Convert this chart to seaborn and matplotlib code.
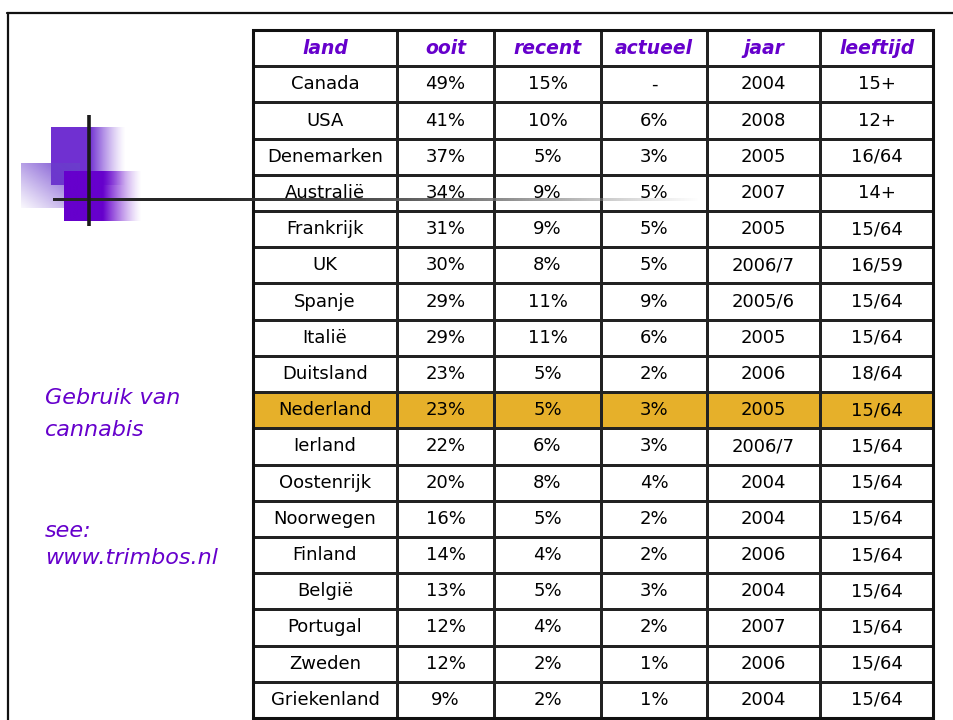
import numpy as np
import pandas as pd
import matplotlib.pyplot as plt
from matplotlib.colors import ListedColormap
from matplotlib.lines import Line2D
from matplotlib.patches import Rectangle
import seaborn as sns

# table contents
header = ['land', 'ooit', 'recent', 'actueel', 'jaar', 'leeftijd']
land = ['Canada', 'USA', 'Denemarken', 'Australië', 'Frankrijk', 'UK', 'Spanje',
        'Italië', 'Duitsland', 'Nederland', 'Ierland', 'Oostenrijk', 'Noorwegen',
        'Finland', 'België', 'Portugal', 'Zweden', 'Griekenland']
ooit = ['49%', '41%', '37%', '34%', '31%', '30%', '29%', '29%', '23%', '23%',
        '22%', '20%', '16%', '14%', '13%', '12%', '12%', '9%']
recent = ['15%', '10%', '5%', '9%', '9%', '8%', '11%', '11%', '5%', '5%',
          '6%', '8%', '5%', '4%', '5%', '4%', '2%', '2%']
actueel = ['-', '6%', '3%', '5%', '5%', '5%', '9%', '6%', '2%', '3%',
           '3%', '4%', '2%', '2%', '3%', '2%', '1%', '1%']
jaar = ['2004', '2008', '2005', '2007', '2005', '2006/7', '2005/6', '2005', '2006', '2005',
        '2006/7', '2004', '2004', '2006', '2004', '2007', '2006', '2004']
leeftijd = ['15+', '12+', '16/64', '14+', '15/64', '16/59', '15/64', '15/64', '18/64', '15/64',
            '15/64', '15/64', '15/64', '15/64', '15/64', '15/64', '15/64', '15/64']
highlight = 'Nederland'

df = pd.DataFrame({'land': land, 'ooit': ooit, 'recent': recent,
                   'actueel': actueel, 'jaar': jaar, 'leeftijd': leeftijd})

purple = '#6600CC'
gold = '#E6B02A'
W, H = 954, 720

sns.set_theme(style='white')
plt.rcParams['font.family'] = ['DejaVu Sans']

fig = plt.figure(figsize=(W / 100, H / 100), dpi=100)
fig.patch.set_facecolor('white')

# column edges in pixels
col_edges = [253, 397, 494, 601, 707, 820, 933]
top_px, bot_px = 30, 718

shade = np.array([0] + [1 if name == highlight else 0 for name in df['land']])[:, None]
cmap = ListedColormap(['white', gold])

for i, col in enumerate(header):
    x0, x1 = col_edges[i], col_edges[i + 1]
    ax = fig.add_axes([x0 / W, 1 - bot_px / H, (x1 - x0) / W, (bot_px - top_px) / H], zorder=1)
    labels = np.array([col] + list(df[col]))[:, None]
    sns.heatmap(shade, annot=labels, fmt='', cmap=cmap, vmin=0, vmax=1, cbar=False,
                linewidths=0.9, linecolor='#222222', xticklabels=False, yticklabels=False,
                annot_kws=dict(fontsize=13, color='black'), ax=ax)
    hdr = ax.texts[0]
    hdr.set_color(purple)
    hdr.set_fontweight('bold')
    hdr.set_fontstyle('italic')
    hdr.set_fontsize(13.5)

# thick outer border of the table
fig.add_artist(Rectangle((col_edges[0] / W, 1 - bot_px / H),
                         (col_edges[-1] - col_edges[0]) / W, (bot_px - top_px) / H,
                         transform=fig.transFigure, fill=False, lw=2.2,
                         edgecolor='#111111', zorder=3))

# slide frame
fig.add_artist(Line2D([7 / W, 1], [1 - 13 / H, 1 - 13 / H], transform=fig.transFigure,
                      color='#111111', lw=1.6))
fig.add_artist(Line2D([8 / W, 8 / W], [1 - 13 / H, 0], transform=fig.transFigure,
                      color='#111111', lw=1.6))

# decoration layer
deco = fig.add_axes([0, 0, 1, 1], zorder=5)
deco.set_xlim(0, W)
deco.set_ylim(H, 0)
deco.axis('off')
deco.patch.set_alpha(0)


def fade_block(x0, x1, y0, y1, rgb, solid_frac):
    n = 200
    t = np.linspace(0, 1, n)
    a = np.where(t < solid_frac, 1.0, np.clip((1 - t) / (1 - solid_frac), 0, 1) ** 1.3)
    img = np.zeros((2, n, 4))
    img[..., :3] = rgb
    img[..., 3] = a
    deco.imshow(img, extent=[x0, x1, y1, y0], aspect='auto', interpolation='bilinear')


fade_block(51, 126, 127, 185, (0.44, 0.19, 0.82), 0.52)

# diagonal faded square
n = 100
gx, gy = np.meshgrid(np.linspace(0, 1, n), np.linspace(0, 1, n))
diag = np.zeros((n, n, 4))
diag[..., :3] = (0.42, 0.24, 0.80)
diag[..., 3] = np.clip(0.05 + 0.95 * (gx + (1 - gy)) / 2, 0, 1) ** 1.1
deco.imshow(diag, extent=[21, 80, 208, 163], aspect='auto', interpolation='bilinear')

fade_block(64, 142, 171, 221, (0.40, 0.0, 0.80), 0.5)

deco.plot([89, 89], [115, 226], color='#1a1a1a', lw=2.6, solid_capstyle='butt')

# fading horizontal rule
m = 400
xs = np.linspace(0, 1, m)
rule = np.zeros((2, m, 4))
shade_rgb = np.clip(0.15 + 0.5 * np.clip((xs - 0.25) / 0.75, 0, 1), 0, 1)
rule[..., 0] = shade_rgb
rule[..., 1] = shade_rgb
rule[..., 2] = shade_rgb
rule[..., 3] = np.clip(1 - np.clip((xs - 0.45) / 0.55, 0, 1) ** 2, 0, 1)
deco.imshow(rule, extent=[53, 700, 201.5, 198.5], aspect='auto', interpolation='bilinear')

# side notes
note_kw = dict(color=purple, fontsize=16, fontstyle='italic', va='center', ha='left')
deco.text(45, 398, 'Gebruik van', **note_kw)
deco.text(45, 430, 'cannabis', **note_kw)
deco.text(45, 531, 'see:', **note_kw)
deco.text(45, 558, 'www.trimbos.nl', **note_kw)

fig.savefig('out.png', dpi=100)
